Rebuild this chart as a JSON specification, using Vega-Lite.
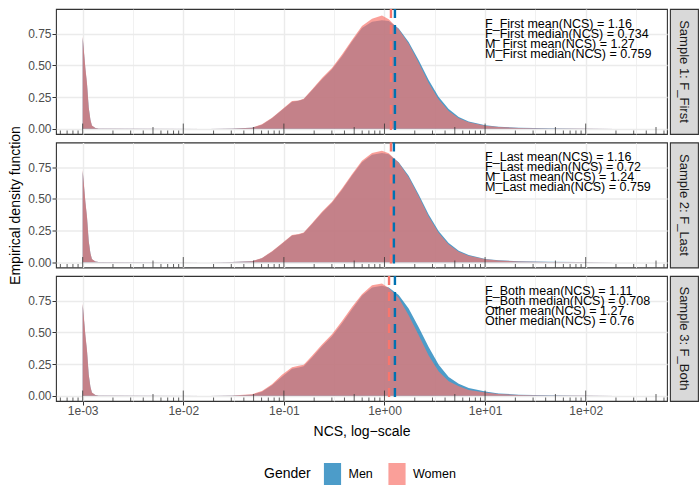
{
"$schema": "https://vega.github.io/schema/vega-lite/v6.json",
"padding": {"left": 8, "top": 7, "right": 3, "bottom": 5},
"background": "white",
"datasets": {
"dens": [
{"p":1,"x":0.001,"Men":0.72,"Women":0.73},{"p":1,"x":0.001064,"Men":0.47,"Women":0.48},{"p":1,"x":0.001104,"Men":0.35,"Women":0.36},{"p":1,"x":0.001148,"Men":0.165,"Women":0.17},{"p":1,"x":0.001194,"Men":0.068,"Women":0.07},{"p":1,"x":0.001236,"Men":0.024,"Women":0.025},{"p":1,"x":0.001337,"Men":0.006,"Women":0.006},{"p":1,"x":0.001442,"Men":0.001,"Women":0.001},{"p":1,"x":0.01778,"Men":0,"Women":0},{"p":1,"x":0.03048,"Men":0.001,"Women":0.001},
{"p":1,"x":0.04819,"Men":0.007,"Women":0.008},{"p":1,"x":0.06053,"Men":0.032,"Women":0.035},{"p":1,"x":0.07621,"Men":0.083,"Women":0.087},{"p":1,"x":0.09572,"Men":0.147,"Women":0.152},{"p":1,"x":0.1205,"Men":0.212,"Women":0.218},{"p":1,"x":0.1403,"Men":0.22,"Women":0.223},{"p":1,"x":0.1574,"Men":0.232,"Women":0.236},{"p":1,"x":0.1905,"Men":0.303,"Women":0.31},{"p":1,"x":0.2393,"Men":0.39,"Women":0.4},{"p":1,"x":0.3006,"Men":0.47,"Women":0.48},
{"p":1,"x":0.3784,"Men":0.572,"Women":0.585},{"p":1,"x":0.4753,"Men":0.688,"Women":0.7},{"p":1,"x":0.597,"Men":0.795,"Women":0.81},{"p":1,"x":0.7516,"Men":0.845,"Women":0.868},{"p":1,"x":0.9441,"Men":0.857,"Women":0.894},{"p":1,"x":1.102,"Men":0.85,"Women":0.865},{"p":1,"x":1.384,"Men":0.792,"Women":0.785},{"p":1,"x":1.738,"Men":0.685,"Women":0.67},{"p":1,"x":2.188,"Men":0.54,"Women":0.52},{"p":1,"x":2.748,"Men":0.385,"Women":0.36},
{"p":1,"x":3.459,"Men":0.25,"Women":0.23},{"p":1,"x":4.345,"Men":0.155,"Women":0.14},{"p":1,"x":5.47,"Men":0.093,"Women":0.083},{"p":1,"x":6.871,"Men":0.057,"Women":0.05},{"p":1,"x":10.07,"Men":0.027,"Women":0.023},{"p":1,"x":13.65,"Men":0.015,"Women":0.013},{"p":1,"x":21.58,"Men":0.007,"Women":0.006},{"p":1,"x":42.85,"Men":0.003,"Women":0.002},{"p":1,"x":85.11,"Men":0.001,"Women":0.0005},{"p":1,"x":199.5,"Men":0,"Women":0},
{"p":2,"x":0.001,"Men":0.72,"Women":0.73},{"p":2,"x":0.001064,"Men":0.47,"Women":0.48},{"p":2,"x":0.001104,"Men":0.35,"Women":0.36},{"p":2,"x":0.001148,"Men":0.165,"Women":0.17},{"p":2,"x":0.001194,"Men":0.068,"Women":0.07},{"p":2,"x":0.001236,"Men":0.024,"Women":0.025},{"p":2,"x":0.001337,"Men":0.006,"Women":0.006},{"p":2,"x":0.001442,"Men":0.001,"Women":0.001},{"p":2,"x":0.01778,"Men":0,"Women":0},{"p":2,"x":0.03048,"Men":0.001,"Women":0.001},
{"p":2,"x":0.04819,"Men":0.007,"Women":0.008},{"p":2,"x":0.06053,"Men":0.032,"Women":0.034},{"p":2,"x":0.07621,"Men":0.082,"Women":0.086},{"p":2,"x":0.09572,"Men":0.146,"Women":0.15},{"p":2,"x":0.1205,"Men":0.21,"Women":0.215},{"p":2,"x":0.1403,"Men":0.218,"Women":0.222},{"p":2,"x":0.1574,"Men":0.23,"Women":0.235},{"p":2,"x":0.1905,"Men":0.302,"Women":0.308},{"p":2,"x":0.2393,"Men":0.39,"Women":0.398},{"p":2,"x":0.3006,"Men":0.47,"Women":0.478},
{"p":2,"x":0.3784,"Men":0.572,"Women":0.582},{"p":2,"x":0.4753,"Men":0.685,"Women":0.695},{"p":2,"x":0.597,"Men":0.79,"Women":0.8},{"p":2,"x":0.7516,"Men":0.848,"Women":0.862},{"p":2,"x":0.9441,"Men":0.862,"Women":0.88},{"p":2,"x":1.102,"Men":0.852,"Women":0.86},{"p":2,"x":1.384,"Men":0.79,"Women":0.785},{"p":2,"x":1.738,"Men":0.682,"Women":0.67},{"p":2,"x":2.188,"Men":0.535,"Women":0.52},{"p":2,"x":2.748,"Men":0.377,"Women":0.36},
{"p":2,"x":3.459,"Men":0.245,"Women":0.23},{"p":2,"x":4.345,"Men":0.152,"Women":0.14},{"p":2,"x":5.47,"Men":0.09,"Women":0.083},{"p":2,"x":6.871,"Men":0.056,"Women":0.05},{"p":2,"x":10.07,"Men":0.026,"Women":0.023},{"p":2,"x":13.65,"Men":0.015,"Women":0.013},{"p":2,"x":21.58,"Men":0.007,"Women":0.006},{"p":2,"x":42.85,"Men":0.003,"Women":0.002},{"p":2,"x":85.11,"Men":0.001,"Women":0.0005},{"p":2,"x":199.5,"Men":0,"Women":0},
{"p":3,"x":0.001,"Men":0.72,"Women":0.73},{"p":3,"x":0.001064,"Men":0.47,"Women":0.48},{"p":3,"x":0.001104,"Men":0.35,"Women":0.36},{"p":3,"x":0.001148,"Men":0.165,"Women":0.17},{"p":3,"x":0.001194,"Men":0.068,"Women":0.07},{"p":3,"x":0.001236,"Men":0.024,"Women":0.025},{"p":3,"x":0.001337,"Men":0.006,"Women":0.006},{"p":3,"x":0.001442,"Men":0.001,"Women":0.001},{"p":3,"x":0.01778,"Men":0,"Women":0},{"p":3,"x":0.03048,"Men":0.001,"Women":0.001},
{"p":3,"x":0.04819,"Men":0.008,"Women":0.012},{"p":3,"x":0.06053,"Men":0.032,"Women":0.037},{"p":3,"x":0.07621,"Men":0.083,"Women":0.09},{"p":3,"x":0.09572,"Men":0.15,"Women":0.165},{"p":3,"x":0.1205,"Men":0.212,"Women":0.225},{"p":3,"x":0.1403,"Men":0.222,"Women":0.236},{"p":3,"x":0.1574,"Men":0.233,"Women":0.245},{"p":3,"x":0.1905,"Men":0.302,"Women":0.315},{"p":3,"x":0.2393,"Men":0.39,"Women":0.405},{"p":3,"x":0.3006,"Men":0.47,"Women":0.485},
{"p":3,"x":0.3784,"Men":0.572,"Women":0.59},{"p":3,"x":0.4753,"Men":0.683,"Women":0.7},{"p":3,"x":0.597,"Men":0.79,"Women":0.8},{"p":3,"x":0.7516,"Men":0.855,"Women":0.872},{"p":3,"x":0.9441,"Men":0.868,"Women":0.886},{"p":3,"x":1.102,"Men":0.855,"Women":0.85},{"p":3,"x":1.384,"Men":0.795,"Women":0.772},{"p":3,"x":1.738,"Men":0.688,"Women":0.635},{"p":3,"x":2.188,"Men":0.54,"Women":0.477},{"p":3,"x":2.748,"Men":0.385,"Women":0.318},
{"p":3,"x":3.459,"Men":0.245,"Women":0.19},{"p":3,"x":4.345,"Men":0.148,"Women":0.113},{"p":3,"x":5.47,"Men":0.095,"Women":0.074},{"p":3,"x":6.871,"Men":0.06,"Women":0.045},{"p":3,"x":10.07,"Men":0.033,"Women":0.025},{"p":3,"x":13.65,"Men":0.018,"Women":0.013},{"p":3,"x":21.58,"Men":0.008,"Women":0.006},{"p":3,"x":42.85,"Men":0.003,"Women":0.002},{"p":3,"x":85.11,"Men":0.001,"Women":0.0005},{"p":3,"x":199.5,"Men":0,"Women":0}
],
"means": [
{"p":1,"g":"Men","x":1.27},{"p":1,"g":"Women","x":1.16},
{"p":2,"g":"Men","x":1.24},{"p":2,"g":"Women","x":1.16},
{"p":3,"g":"Men","x":1.27},{"p":3,"g":"Women","x":1.11}
],
"notes": [
{"p":1,"t":"F_First mean(NCS) = 1.16\nF_First median(NCS) = 0.734\nM_First mean(NCS) = 1.27\nM_First median(NCS) = 0.759"},
{"p":2,"t":"F_Last mean(NCS) = 1.16\nF_Last median(NCS) = 0.72\nM_Last mean(NCS) = 1.24\nM_Last median(NCS) = 0.759"},
{"p":3,"t":"F_Both mean(NCS) = 1.11\nF_Both median(NCS) = 0.708\nOther mean(NCS) = 1.27\nOther median(NCS) = 0.76"}
],
"lt": [
{"x":0.001,"k":"L"},{"x":0.01,"k":"L"},{"x":0.1,"k":"L"},{"x":1,"k":"L"},{"x":10,"k":"L"},{"x":100,"k":"L"},
{"x":0.005,"k":"M"},{"x":0.05,"k":"M"},{"x":0.5,"k":"M"},{"x":5,"k":"M"},{"x":50,"k":"M"},{"x":500,"k":"M"},
{"x":0.0006,"k":"S"},{"x":0.0007,"k":"S"},{"x":0.0008,"k":"S"},{"x":0.0009,"k":"S"},
{"x":0.002,"k":"S"},{"x":0.003,"k":"S"},{"x":0.004,"k":"S"},{"x":0.006,"k":"S"},{"x":0.007,"k":"S"},{"x":0.008,"k":"S"},{"x":0.009,"k":"S"},
{"x":0.02,"k":"S"},{"x":0.03,"k":"S"},{"x":0.04,"k":"S"},{"x":0.06,"k":"S"},{"x":0.07,"k":"S"},{"x":0.08,"k":"S"},{"x":0.09,"k":"S"},
{"x":0.2,"k":"S"},{"x":0.3,"k":"S"},{"x":0.4,"k":"S"},{"x":0.6,"k":"S"},{"x":0.7,"k":"S"},{"x":0.8,"k":"S"},{"x":0.9,"k":"S"},
{"x":2,"k":"S"},{"x":3,"k":"S"},{"x":4,"k":"S"},{"x":6,"k":"S"},{"x":7,"k":"S"},{"x":8,"k":"S"},{"x":9,"k":"S"},
{"x":20,"k":"S"},{"x":30,"k":"S"},{"x":40,"k":"S"},{"x":60,"k":"S"},{"x":70,"k":"S"},{"x":80,"k":"S"},{"x":90,"k":"S"},
{"x":200,"k":"S"},{"x":300,"k":"S"},{"x":400,"k":"S"},{"x":600,"k":"S"}
],
"s1": [{"t":"Sample 1: F_First"}],
"s2": [{"t":"Sample 2: F_Last"}],
"s3": [{"t":"Sample 3: F_Both"}],
"yt": [{"t":"Empirical density function"}]
},
"spacing": 4,
"hconcat": [
{"width": 14, "height": 393, "view": {"stroke": null}, "data": {"name": "yt"},
 "mark": {"type": "text", "angle": 270, "fontSize": 14, "color": "#000000", "align": "center", "baseline": "middle"},
 "encoding": {"text": {"field": "t"}}},
{"spacing": 4.5, "vconcat": [
{"spacing": 1, "hconcat": [
{"width": 611, "height": 125, "view": {"stroke": "#333333", "strokeWidth": 1.1},
 "layer": [
  {"data": {"name": "dens"}, "transform": [{"filter": "datum.p == 1"}, {"fold": ["Men","Women"], "as": ["g","y"]}, {"filter": "datum.g == 'Men'"}],
   "mark": {"type": "area", "opacity": 0.7},
   "encoding": {
    "x": {"field": "x", "type": "quantitative", "scale": {"type": "log", "domain": [0.000543, 643], "nice": false},
      "axis": {"values": [0.001,0.003162,0.01,0.03162,0.1,0.3162,1,3.162,10,31.62,100,316.2], "grid": true, "labels": false, "ticks": false, "tickSize": 0, "labelPadding": 0, "domain": false, "title": null,
        "gridWidth": {"condition": {"test": "abs(log(datum.value)/LN10 - round(log(datum.value)/LN10)) < 0.05", "value": 1.4}, "value": 0.7}}},
    "y": {"field": "y", "type": "quantitative", "stack": null, "scale": {"domain": [-0.042, 0.945], "nice": false, "zero": false},
      "axis": {"values": [0,0.125,0.25,0.375,0.5,0.625,0.75,0.875], "grid": true, "title": null, "labelOverlap": false,
        "labelExpr": "datum.value*4 == round(datum.value*4) ? format(datum.value, '.2f') : ''",
        "tickOpacity": {"condition": {"test": "datum.value*4 == round(datum.value*4)", "value": 1}, "value": 0},
        "gridWidth": {"condition": {"test": "datum.value*4 == round(datum.value*4)", "value": 1.4}, "value": 0.7}}},
    "y2": {"datum": 0},
    "color": {"field": "g", "type": "nominal", "scale": {"domain": ["Men","Women"], "range": ["#0072B2","#F8766D"]}}
   }},
  {"data": {"name": "dens"}, "transform": [{"filter": "datum.p == 1"}, {"fold": ["Men","Women"], "as": ["g","y"]}, {"filter": "datum.g == 'Women'"}],
   "mark": {"type": "area", "opacity": 0.7},
   "encoding": {"x": {"field": "x", "type": "quantitative"}, "y": {"field": "y", "type": "quantitative", "stack": null}, "y2": {"datum": 0},
    "color": {"field": "g", "type": "nominal"}}},
  {"data": {"name": "means"}, "transform": [{"filter": "datum.p == 1 && datum.g == 'Men'"}],
   "mark": {"type": "rule", "strokeDash": [9,7], "strokeWidth": 2.4, "color": "#0072B2"},
   "encoding": {"x": {"field": "x", "type": "quantitative"}}},
  {"data": {"name": "means"}, "transform": [{"filter": "datum.p == 1 && datum.g == 'Women'"}],
   "mark": {"type": "rule", "strokeDash": [9,7], "strokeWidth": 2.4, "color": "#F8766D"},
   "encoding": {"x": {"field": "x", "type": "quantitative"}}},
  {"data": {"name": "lt"}, "transform": [{"filter": "datum.k == 'S'"}], "mark": {"type": "rule", "color": "#333333", "strokeWidth": 0.8},
   "encoding": {"x": {"field": "x", "type": "quantitative"}, "y": {"datum": -0.042, "type": "quantitative"}, "y2": {"datum": -0.0145}}},
  {"data": {"name": "lt"}, "transform": [{"filter": "datum.k == 'M'"}], "mark": {"type": "rule", "color": "#333333", "strokeWidth": 0.8},
   "encoding": {"x": {"field": "x", "type": "quantitative"}, "y": {"datum": -0.042, "type": "quantitative"}, "y2": {"datum": 0.013}}},
  {"data": {"name": "lt"}, "transform": [{"filter": "datum.k == 'L'"}], "mark": {"type": "rule", "color": "#333333", "strokeWidth": 0.8},
   "encoding": {"x": {"field": "x", "type": "quantitative"}, "y": {"datum": -0.042, "type": "quantitative"}, "y2": {"datum": 0.0405}}},
  {"data": {"name": "notes"}, "transform": [{"filter": "datum.p == 1"}],
   "mark": {"type": "text", "align": "left", "baseline": "middle", "fontSize": 12.5, "lineHeight": 10, "lineBreak": "\n", "color": "black"},
   "encoding": {"x": {"datum": 10, "type": "quantitative"}, "y": {"datum": 0.83, "type": "quantitative"}, "text": {"field": "t"}}}
 ]},
{"width": 28, "height": 125, "view": {"fill": "#D9D9D9", "stroke": "#333333", "strokeWidth": 1.1}, "data": {"name": "s1"},
 "mark": {"type": "text", "angle": 90, "fontSize": 13, "color": "#1A1A1A", "align": "center", "baseline": "middle"},
 "encoding": {"text": {"field": "t"}}}
]},
{"spacing": 1, "hconcat": [
{"width": 611, "height": 125, "view": {"stroke": "#333333", "strokeWidth": 1.1},
 "layer": [
  {"data": {"name": "dens"}, "transform": [{"filter": "datum.p == 2"}, {"fold": ["Men","Women"], "as": ["g","y"]}, {"filter": "datum.g == 'Men'"}],
   "mark": {"type": "area", "opacity": 0.7},
   "encoding": {
    "x": {"field": "x", "type": "quantitative", "scale": {"type": "log", "domain": [0.000543, 643], "nice": false},
      "axis": {"values": [0.001,0.003162,0.01,0.03162,0.1,0.3162,1,3.162,10,31.62,100,316.2], "grid": true, "labels": false, "ticks": false, "tickSize": 0, "labelPadding": 0, "domain": false, "title": null,
        "gridWidth": {"condition": {"test": "abs(log(datum.value)/LN10 - round(log(datum.value)/LN10)) < 0.05", "value": 1.4}, "value": 0.7}}},
    "y": {"field": "y", "type": "quantitative", "stack": null, "scale": {"domain": [-0.042, 0.945], "nice": false, "zero": false},
      "axis": {"values": [0,0.125,0.25,0.375,0.5,0.625,0.75,0.875], "grid": true, "title": null, "labelOverlap": false,
        "labelExpr": "datum.value*4 == round(datum.value*4) ? format(datum.value, '.2f') : ''",
        "tickOpacity": {"condition": {"test": "datum.value*4 == round(datum.value*4)", "value": 1}, "value": 0},
        "gridWidth": {"condition": {"test": "datum.value*4 == round(datum.value*4)", "value": 1.4}, "value": 0.7}}},
    "y2": {"datum": 0},
    "color": {"field": "g", "type": "nominal", "scale": {"domain": ["Men","Women"], "range": ["#0072B2","#F8766D"]}}
   }},
  {"data": {"name": "dens"}, "transform": [{"filter": "datum.p == 2"}, {"fold": ["Men","Women"], "as": ["g","y"]}, {"filter": "datum.g == 'Women'"}],
   "mark": {"type": "area", "opacity": 0.7},
   "encoding": {"x": {"field": "x", "type": "quantitative"}, "y": {"field": "y", "type": "quantitative", "stack": null}, "y2": {"datum": 0},
    "color": {"field": "g", "type": "nominal"}}},
  {"data": {"name": "means"}, "transform": [{"filter": "datum.p == 2 && datum.g == 'Men'"}],
   "mark": {"type": "rule", "strokeDash": [9,7], "strokeWidth": 2.4, "color": "#0072B2"},
   "encoding": {"x": {"field": "x", "type": "quantitative"}}},
  {"data": {"name": "means"}, "transform": [{"filter": "datum.p == 2 && datum.g == 'Women'"}],
   "mark": {"type": "rule", "strokeDash": [9,7], "strokeWidth": 2.4, "color": "#F8766D"},
   "encoding": {"x": {"field": "x", "type": "quantitative"}}},
  {"data": {"name": "lt"}, "transform": [{"filter": "datum.k == 'S'"}], "mark": {"type": "rule", "color": "#333333", "strokeWidth": 0.8},
   "encoding": {"x": {"field": "x", "type": "quantitative"}, "y": {"datum": -0.042, "type": "quantitative"}, "y2": {"datum": -0.0145}}},
  {"data": {"name": "lt"}, "transform": [{"filter": "datum.k == 'M'"}], "mark": {"type": "rule", "color": "#333333", "strokeWidth": 0.8},
   "encoding": {"x": {"field": "x", "type": "quantitative"}, "y": {"datum": -0.042, "type": "quantitative"}, "y2": {"datum": 0.013}}},
  {"data": {"name": "lt"}, "transform": [{"filter": "datum.k == 'L'"}], "mark": {"type": "rule", "color": "#333333", "strokeWidth": 0.8},
   "encoding": {"x": {"field": "x", "type": "quantitative"}, "y": {"datum": -0.042, "type": "quantitative"}, "y2": {"datum": 0.0405}}},
  {"data": {"name": "notes"}, "transform": [{"filter": "datum.p == 2"}],
   "mark": {"type": "text", "align": "left", "baseline": "middle", "fontSize": 12.5, "lineHeight": 10, "lineBreak": "\n", "color": "black"},
   "encoding": {"x": {"datum": 10, "type": "quantitative"}, "y": {"datum": 0.83, "type": "quantitative"}, "text": {"field": "t"}}}
 ]},
{"width": 28, "height": 125, "view": {"fill": "#D9D9D9", "stroke": "#333333", "strokeWidth": 1.1}, "data": {"name": "s2"},
 "mark": {"type": "text", "angle": 90, "fontSize": 13, "color": "#1A1A1A", "align": "center", "baseline": "middle"},
 "encoding": {"text": {"field": "t"}}}
]},
{"spacing": 1, "hconcat": [
{"width": 611, "height": 125, "view": {"stroke": "#333333", "strokeWidth": 1.1},
 "layer": [
  {"data": {"name": "dens"}, "transform": [{"filter": "datum.p == 3"}, {"fold": ["Men","Women"], "as": ["g","y"]}, {"filter": "datum.g == 'Men'"}],
   "mark": {"type": "area", "opacity": 0.7},
   "encoding": {
    "x": {"field": "x", "type": "quantitative", "scale": {"type": "log", "domain": [0.000543, 643], "nice": false},
      "axis": {"values": [0.001,0.003162,0.01,0.03162,0.1,0.3162,1,3.162,10,31.62,100,316.2], "grid": true, "domain": false, "title": "NCS, log−scale",
        "labelOverlap": false, "labelFlush": false, "labelBound": false, "labelPadding": 0, "titlePadding": 8,
        "labelExpr": "abs(log(datum.value)/LN10 - round(log(datum.value)/LN10)) < 0.05 ? '1e' + (round(log(datum.value)/LN10) < 0 ? '-' : '+') + (abs(round(log(datum.value)/LN10)) < 10 ? '0' : '') + abs(round(log(datum.value)/LN10)) : ''",
        "tickOpacity": {"condition": {"test": "abs(log(datum.value)/LN10 - round(log(datum.value)/LN10)) < 0.05", "value": 1}, "value": 0},
        "gridWidth": {"condition": {"test": "abs(log(datum.value)/LN10 - round(log(datum.value)/LN10)) < 0.05", "value": 1.4}, "value": 0.7}}},
    "y": {"field": "y", "type": "quantitative", "stack": null, "scale": {"domain": [-0.042, 0.945], "nice": false, "zero": false},
      "axis": {"values": [0,0.125,0.25,0.375,0.5,0.625,0.75,0.875], "grid": true, "title": null, "labelOverlap": false,
        "labelExpr": "datum.value*4 == round(datum.value*4) ? format(datum.value, '.2f') : ''",
        "tickOpacity": {"condition": {"test": "datum.value*4 == round(datum.value*4)", "value": 1}, "value": 0},
        "gridWidth": {"condition": {"test": "datum.value*4 == round(datum.value*4)", "value": 1.4}, "value": 0.7}}},
    "y2": {"datum": 0},
    "color": {"field": "g", "type": "nominal", "scale": {"domain": ["Men","Women"], "range": ["#0072B2","#F8766D"]},
      "legend": {"title": "Gender", "orient": "none", "legendX": 255, "legendY": 454, "direction": "horizontal", "titleOrient": "left",
        "symbolType": "M-0.78,-1H0.78V1H-0.78Z", "symbolSize": 484, "symbolStrokeWidth": 0, "symbolOpacity": 0.7, "titlePadding": 10.5, "columnPadding": 12.5}}
   }},
  {"data": {"name": "dens"}, "transform": [{"filter": "datum.p == 3"}, {"fold": ["Men","Women"], "as": ["g","y"]}, {"filter": "datum.g == 'Women'"}],
   "mark": {"type": "area", "opacity": 0.7},
   "encoding": {"x": {"field": "x", "type": "quantitative"}, "y": {"field": "y", "type": "quantitative", "stack": null}, "y2": {"datum": 0},
    "color": {"field": "g", "type": "nominal"}}},
  {"data": {"name": "means"}, "transform": [{"filter": "datum.p == 3 && datum.g == 'Men'"}],
   "mark": {"type": "rule", "strokeDash": [9,7], "strokeWidth": 2.4, "color": "#0072B2"},
   "encoding": {"x": {"field": "x", "type": "quantitative"}}},
  {"data": {"name": "means"}, "transform": [{"filter": "datum.p == 3 && datum.g == 'Women'"}],
   "mark": {"type": "rule", "strokeDash": [9,7], "strokeWidth": 2.4, "color": "#F8766D"},
   "encoding": {"x": {"field": "x", "type": "quantitative"}}},
  {"data": {"name": "lt"}, "transform": [{"filter": "datum.k == 'S'"}], "mark": {"type": "rule", "color": "#333333", "strokeWidth": 0.8},
   "encoding": {"x": {"field": "x", "type": "quantitative"}, "y": {"datum": -0.042, "type": "quantitative"}, "y2": {"datum": -0.0145}}},
  {"data": {"name": "lt"}, "transform": [{"filter": "datum.k == 'M'"}], "mark": {"type": "rule", "color": "#333333", "strokeWidth": 0.8},
   "encoding": {"x": {"field": "x", "type": "quantitative"}, "y": {"datum": -0.042, "type": "quantitative"}, "y2": {"datum": 0.013}}},
  {"data": {"name": "lt"}, "transform": [{"filter": "datum.k == 'L'"}], "mark": {"type": "rule", "color": "#333333", "strokeWidth": 0.8},
   "encoding": {"x": {"field": "x", "type": "quantitative"}, "y": {"datum": -0.042, "type": "quantitative"}, "y2": {"datum": 0.0405}}},
  {"data": {"name": "notes"}, "transform": [{"filter": "datum.p == 3"}],
   "mark": {"type": "text", "align": "left", "baseline": "middle", "fontSize": 12.5, "lineHeight": 10, "lineBreak": "\n", "color": "black"},
   "encoding": {"x": {"datum": 10, "type": "quantitative"}, "y": {"datum": 0.83, "type": "quantitative"}, "text": {"field": "t"}}}
 ]},
{"width": 28, "height": 125, "view": {"fill": "#D9D9D9", "stroke": "#333333", "strokeWidth": 1.1}, "data": {"name": "s3"},
 "mark": {"type": "text", "angle": 90, "fontSize": 13, "color": "#1A1A1A", "align": "center", "baseline": "middle"},
 "encoding": {"text": {"field": "t"}}}
]}
]}
],
"config": {
 "font": "Liberation Sans",
 "axis": {"labelFont": "Liberation Sans", "labelFontSize": 12, "labelColor": "#4D4D4D", "tickColor": "#333333", "tickSize": 4, "tickWidth": 1, "labelPadding": 1,
   "domain": false, "gridColor": "#EBEBEB", "titleFont": "Liberation Sans", "titleFontSize": 14, "titleFontWeight": "normal", "titleColor": "#000000", "titlePadding": 7},
 "legend": {"titleFontSize": 14, "titleFontWeight": "normal", "titleColor": "#000000", "labelFontSize": 12.5, "labelColor": "#000000", "titleFont": "Liberation Sans", "labelFont": "Liberation Sans",
   "labelOffset": 5, "columnPadding": 12.5, "titlePadding": 10.5, "symbolType": "M-0.78,-1H0.78V1H-0.78Z", "symbolSize": 484, "symbolStrokeWidth": 0},
 "text": {"font": "Liberation Sans"}
}
}
